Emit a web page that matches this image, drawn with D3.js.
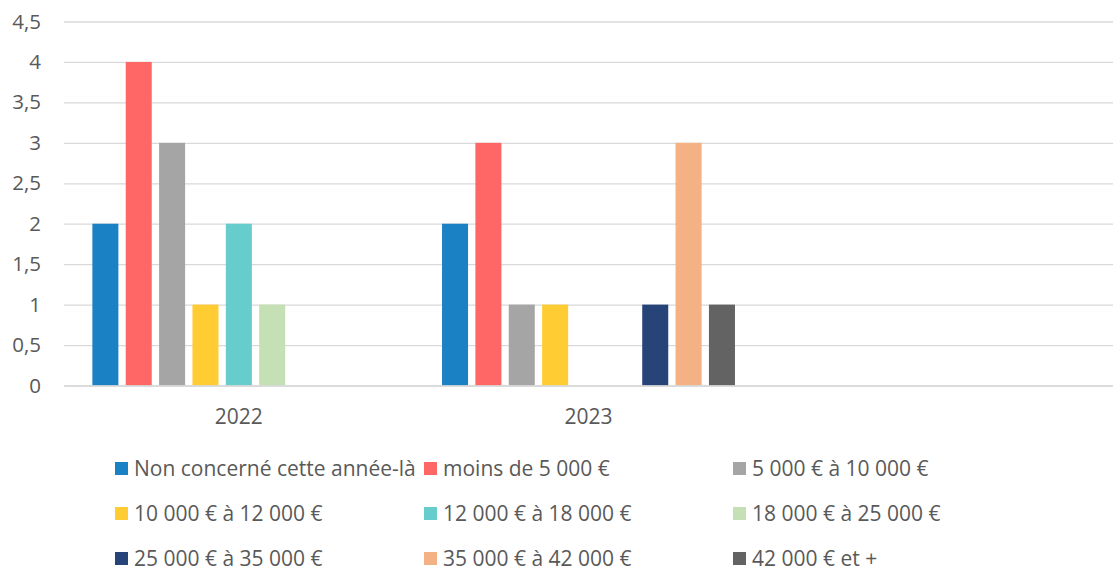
<!DOCTYPE html>
<html>
<head>
<meta charset="utf-8">
<script src="https://cdn.jsdelivr.net/npm/d3@7"></script>
<style>
  body { margin: 0; background: #fff; }
  svg text { font-family: "Open Sans", sans-serif; fill: #595959; }
</style>
</head>
<body>
<svg width="1113" height="572"></svg>
<script>
var categories = ["2022", "2023", ""]
var seriesNames = [
  "Non concerné cette année-là",
  "moins de 5 000 €",
  "5 000 € à 10 000 €",
  "10 000 € à 12 000 €",
  "12 000 € à 18 000 €",
  "18 000 € à 25 000 €",
  "25 000 € à 35 000 €",
  "35 000 € à 42 000 €",
  "42 000 € et +"
]
var seriesColors = ["#1a82c4", "#ff6666", "#a5a5a5", "#ffcc33", "#66cccc", "#c5e0b4", "#264478", "#f4b183", "#636363"]
var values2022 = [2, 4, 3, 1, 2, 1, null, null, null]
var values2023 = [2, 3, 1, 1, null, null, 1, 3, 1]
var valuesBlank = [null, null, null, null, null, null, null, null, null]
var yTicks = [0, 0.5, 1, 1.5, 2, 2.5, 3, 3.5, 4, 4.5]

function main() {
  var svg = d3.select("svg")
  var margin = {top: 21.5, left: 64, right: 0}
  var width = 1113 - margin.left - margin.right
  var height = 385.5 - margin.top

  var table = [values2022, values2023, valuesBlank]
  var locale = d3.formatLocale({decimal: ",", thousands: " ", grouping: [3], currency: ["", " €"]})
  var fmt = locale.format("~g")

  var canvas = svg.append("g").attr("transform", "translate(" + margin.left + "," + margin.top + ")")

  var yScale = d3.scaleLinear().domain([0, 4.5]).range([height, 0])
  var x0 = d3.scaleBand().domain(categories).range([0, width]).padding(0)
  var x1 = d3.scaleBand().domain(d3.range(seriesNames.length))
    .range([0, x0.bandwidth()]).paddingInner(0.22).paddingOuter(0.85)

  // gridlines + y labels
  var yAxis = canvas.append("g")
    .call(d3.axisLeft(yScale).tickValues(yTicks).tickSize(-width).tickFormat(fmt).tickPadding(23))
  yAxis.select(".domain").remove()
  yAxis.selectAll("line").attr("stroke", "#d9d9d9").attr("stroke-width", 1.3)
  yAxis.selectAll("text").attr("font-size", 20.5).attr("fill", "#595959")

  // bars
  var groups = canvas.selectAll("g.cat").data(table).enter().append("g")
    .attr("class", "cat")
    .attr("transform", (d, i) => "translate(" + x0(categories[i]) + ",0)")

  groups.selectAll("rect")
    .data(d => d.map((v, j) => ({v: v, j: j})).filter(e => e.v != null))
    .enter().append("rect")
    .attr("x", e => x1(e.j))
    .attr("width", x1.bandwidth())
    .attr("y", e => yScale(e.v))
    .attr("height", e => yScale(0) - yScale(e.v))
    .attr("fill", e => seriesColors[e.j])

  // x axis
  var xAxis = canvas.append("g").attr("transform", "translate(0," + height + ")")
    .call(d3.axisBottom(x0).tickSize(0).tickPadding(24))
  xAxis.select(".domain").attr("stroke", "#d9d9d9").attr("stroke-width", 1.3)
  xAxis.selectAll("text").attr("font-size", 21).attr("fill", "#595959")

  // legend
  var legend = svg.append("g")
  var items = legend.selectAll("g").data(seriesNames).enter().append("g")
    .attr("transform", (d, i) => "translate(" + (115 + (i % 3) * 309) + "," + (462 + Math.floor(i / 3) * 45) + ")")
  items.append("rect").attr("width", 13).attr("height", 13).attr("fill", (d, i) => seriesColors[i])
  items.append("text").attr("x", 19).attr("y", 13.5).attr("font-size", 21).text(d => d)
}

window.onload = function() {
  main()
}
</script>
</body>
</html>
